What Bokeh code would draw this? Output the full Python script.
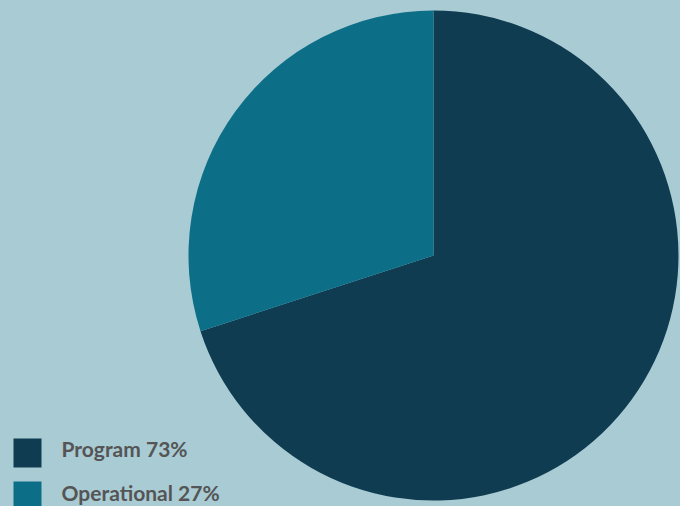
import math
from bokeh.plotting import figure
from bokeh.models import Range1d, ColumnDataSource
from bokeh.core.properties import value
from bokeh.embed import file_html
from bokeh.resources import INLINE

categories = ["Program", "Operational"]
values = [70, 30]
labels = ["Program 73%", "Operational 27%"]
colors = ["#0f3c51", "#0c6f87"]

W, H = 680, 506
BG = "#a9cbd4"

p = figure(width=W, height=H, output_backend="svg", toolbar_location=None,
           x_range=Range1d(0, W), y_range=Range1d(0, H), min_border=0)
p.axis.visible = False
p.grid.visible = False
p.outline_line_color = None
p.background_fill_color = BG
p.border_fill_color = BG

total = sum(values)
cx, cy, r = 433, H - 255, 245
prog_end = math.pi / 2
prog_start = prog_end - 2 * math.pi * values[0] / total
op_start = math.pi / 2
op_end = op_start + 2 * math.pi * values[1] / total
src = ColumnDataSource(dict(start=[prog_start, op_start], end=[prog_end, op_end],
                            color=colors))
p.wedge(x=cx, y=cy, radius=r, start_angle="start", end_angle="end",
        fill_color="color", line_color=None, source=src)

# legend
ly = [H - 452.5, H - 495.5]
p.rect(x=[27, 27], y=ly, width=28, height=29, fill_color=colors, line_color=None)
p.text(x=[61, 61], y=[H - 448, H - 492], text=labels, text_font=value("Lato"),
       text_font_style="bold", text_font_size="21px", text_color="#555555",
       text_baseline="middle")

html = file_html(p, INLINE)
html = html.replace("<head>", "<head><style>html,body{margin:0;padding:0;background:%s;}</style>" % BG, 1)
open("out.html", "w").write(html)
